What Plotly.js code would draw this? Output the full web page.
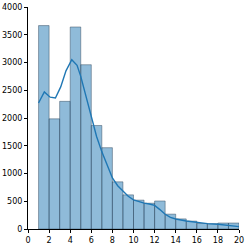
<!DOCTYPE html>
<html><head><meta charset="utf-8">
<script src="https://cdn.plot.ly/plotly-3.0.1.min.js"></script>
<style>html,body{margin:0;padding:0;background:#fff;}#c{width:249px;height:247px;}</style>
</head><body><div id="c"></div>
<script>
var binStarts = [1,2,3,4,5,6,7,8,9,10,11,12,13,14,15,16,17,18,19];
var binWidth = 1;
var counts = [3665,1985,2300,3640,2960,1865,1465,850,615,520,465,505,268,182,142,100,95,108,108];
var kdeX = [1.0,1.55,2.1,2.6,3.1,3.6,4.15,4.65,5.0,5.4,5.6,6.0,6.5,7.0,7.5,8.0,8.5,9.0,9.5,10,10.5,11,11.5,12,12.5,13,13.5,14,15,16,17,18,19,20];
var kdeY = [2270,2470,2375,2360,2560,2850,3050,2950,2750,2450,2300,1990,1666,1390,1140,920,780,680,590,525,490,465,450,425,350,265,210,180,145,115,97,85,62,42];
var xTicks = [0,2,4,6,8,10,12,14,16,18,20];
var yTicks = [0,500,1000,1500,2000,2500,3000,3500,4000];

var centers = binStarts.map(function(s){return s + binWidth/2;});
var data = [
  {type:'bar', x:centers, y:counts, width:binWidth,
   marker:{color:'rgba(31,119,180,0.5)', line:{color:'rgba(40,60,80,0.55)', width:0.8}},
   hoverinfo:'none'},
  {type:'scatter', mode:'lines', x:kdeX, y:kdeY,
   line:{color:'#1f77b4', width:1.4}, hoverinfo:'none'}
];
var axFont = {family:'DejaVu Sans', size:8, color:'#000'};
var layout = {
  width:249, height:247,
  margin:{l:28, r:10, t:7, b:18},
  paper_bgcolor:'#fff', plot_bgcolor:'#fff',
  showlegend:false, bargap:0,
  xaxis:{range:[0,20], tickvals:xTicks, ticktext:xTicks.map(String), showgrid:false, zeroline:false,
         showline:true, linecolor:'#000', linewidth:1, ticks:'outside', ticklen:3, tickcolor:'#000',
         tickfont:axFont},
  yaxis:{range:[0,4000], tickvals:yTicks, ticktext:yTicks.map(String), showgrid:false, zeroline:false,
         showline:true, linecolor:'#000', linewidth:1, ticks:'outside', ticklen:3, tickcolor:'#000',
         tickfont:axFont}
};
Plotly.newPlot('c', data, layout, {staticPlot:true});
</script></body></html>
